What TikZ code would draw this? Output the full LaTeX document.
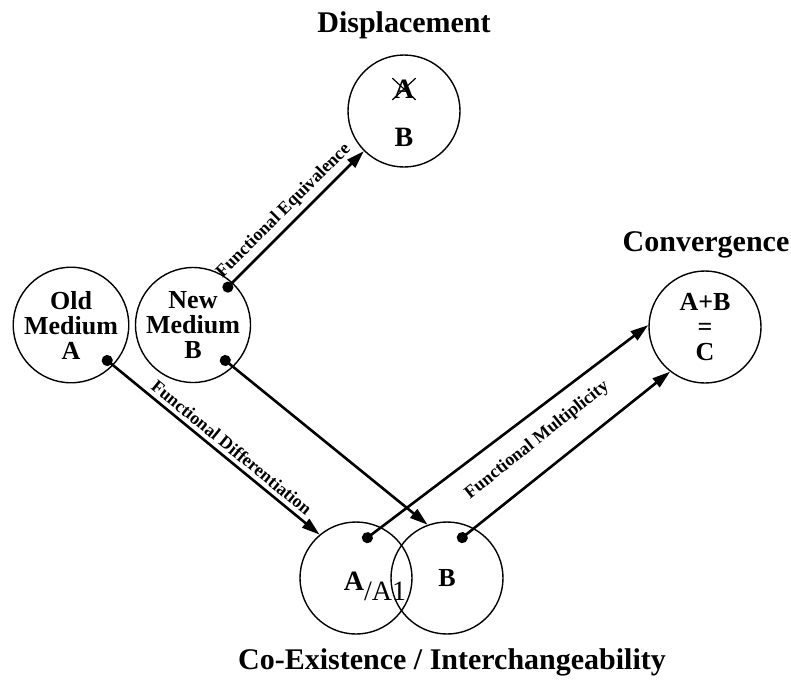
\documentclass[tikz,border=0pt]{standalone}
\usepackage{fontspec}
\setmainfont{Liberation Serif}
\usetikzlibrary{arrows.meta, shapes.misc}

\begin{document}
\begin{tikzpicture}[
    x=0.5pt, y=-0.5pt,
    medium/.style={draw=black, line width=0.7pt, circle, minimum size=56pt, inner sep=0pt, align=center, font=\fontsize{13}{12.5}\selectfont\bfseries},
    heading/.style={font=\fontsize{15}{18}\selectfont\bfseries},
    letter/.style={font=\fontsize{14}{14}\selectfont\bfseries, inner sep=0.5pt},
    edge/.style={line width=1.3pt, {Circle[length=5.5pt]}-{Triangle[length=9pt, width=5.5pt]}},
    edgelabel/.style={font=\fontsize{9}{10}\selectfont\bfseries, sloped, inner sep=1pt}
]
\useasboundingbox (0,0) rectangle (791,686);

% Ausgangsmedien
\node[medium] (old) at (71,325) {Old\\Medium\\A};
\node[medium] (new) at (193,325) {New\\Medium\\B};

% Verdrängung
\node[medium] (disp) at (404,111) {};
\node[heading] (displabel) at (404,25) {Displacement};
\node[letter, cross out, draw, line width=0.6pt] (dispA) at (404,89) {A};
\node[letter] (dispB) at (404,137) {B};

% Konvergenz
\node[medium] (conv) at (705,327) {A+B\\=\\C};
\node[heading] (convlabel) at (706,245) {Convergence};

% Koexistenz
\node[medium] (coA) at (356,578) {};
\node[medium] (coB) at (447,578) {B};
\node[font=\fontsize{14}{14}\selectfont] (coAtext) at (375,586) {\textbf{A}\raisebox{-5pt}{/A1}};
\node[heading] (colabel) at (452,662) {Co-Existence / Interchangeability};

% Startpunkte der Pfeile
\coordinate (eqdot) at (224,291);
\coordinate (olddot) at (103,357);
\coordinate (newdot) at (221,357);
\coordinate (coAdot) at (363,541);
\coordinate (coBdot) at (458,541);

% Kanten
\draw[edge] (eqdot) -- (disp) node[edgelabel, midway, above=1.5pt] {Functional Equivalence};
\draw[edge] (olddot) -- (coA.130) node[edgelabel, pos=0.56, above=1pt] {Functional Differentiation};
\draw[edge] (newdot) -- (coB.110);
\draw[edge] (coAdot) -- (conv.178);
\draw[edge] (coBdot) -- (conv.232) node[edgelabel, pos=0.46, above=9pt] {Functional Multiplicity};

\end{tikzpicture}
\end{document}
